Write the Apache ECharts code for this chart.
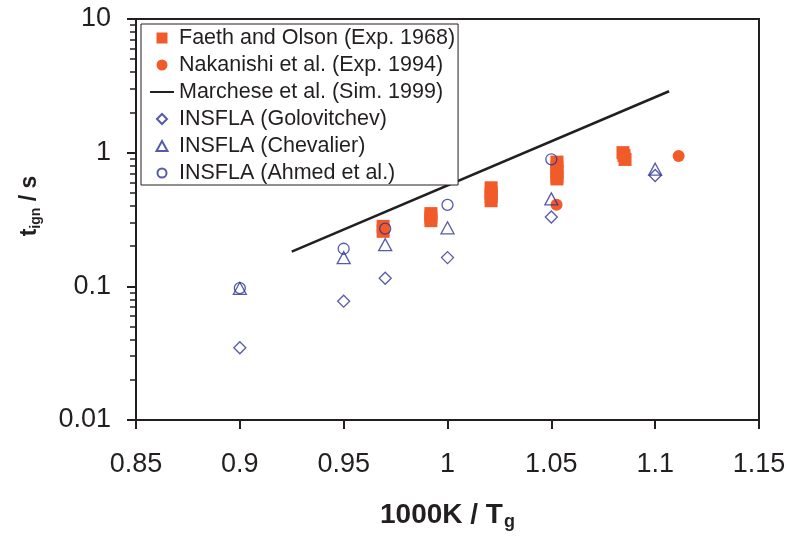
<!DOCTYPE html>
<html>
<head>
<meta charset="utf-8">
<script src="https://cdn.jsdelivr.net/npm/echarts@6/dist/echarts.min.js"></script>
<style>html,body{margin:0;padding:0;background:#fff}#c{width:789px;height:536px}</style>
</head>
<body>
<div id="c"></div>
<script>
// ---- data ----
const faethX = [0.969, 0.969, 0.992, 0.992, 0.992, 1.021, 1.021, 1.021, 1.021, 1.0527, 1.0527, 1.0527, 1.0527, 1.0527, 1.0845, 1.085, 1.0855];
const faethY = [0.281, 0.258, 0.35, 0.33, 0.31, 0.546, 0.50, 0.47, 0.437, 0.85, 0.78, 0.72, 0.66, 0.636, 1.0, 0.95, 0.89];
const nakaX = [1.0525, 1.1113];
const nakaY = [0.407, 0.946];
const marchX = [0.925, 1.1067];
const marchY = [0.182, 2.88];
const goloX = [0.9, 0.95, 0.97, 1.0, 1.05, 1.1];
const goloY = [0.0347, 0.0774, 0.115, 0.164, 0.33, 0.675];
const chevX = [0.9, 0.95, 0.97, 1.0, 1.05, 1.1];
const chevY = [0.0966, 0.164, 0.205, 0.274, 0.451, 0.752];
const ahmedX = [0.9, 0.95, 0.97, 1.0, 1.05];
const ahmedY = [0.097, 0.191, 0.27, 0.407, 0.892];
const seriesNames = ['Faeth and Olson (Exp. 1968)', 'Nakanishi et al. (Exp. 1994)', 'Marchese et al. (Sim. 1999)',
  'INSFLA (Golovitchev)', 'INSFLA (Chevalier)', 'INSFLA (Ahmed et al.)'];
const yMajorTicks = [0.01, 0.1, 1, 10];
const yMinorTicks = [];
[0.01, 0.1, 1].forEach(d => { for (let k = 2; k <= 9; k++) yMinorTicks.push(+(d * k).toPrecision(3)); });

const pairs = (xs, ys) => xs.map((x, i) => [x, ys[i]]);
const ORANGE = '#F15A29', BLUE = '#2E3192', INK = '#231F20';
const FONT = "'Liberation Sans', Arial, sans-serif";

// legend icons (bounding box padded with zero-length segments so sizes stay true)
const BOX12 = 'M0,0L0,0M12,12L12,12';
const legendIcons = [
  'path://' + BOX12 + 'M0.5,0.5L11.5,0.5L11.5,11.5L0.5,11.5Z',
  'path://' + BOX12 + 'M0.5,6A5.5,5.5,0,1,1,11.5,6A5.5,5.5,0,1,1,0.5,6Z',
  'path://M0,0L0,0M24,12L24,12M0,5L24,5L24,7L0,7Z',
  'path://' + BOX12 + 'M1,6L6,1L11,6L6,11Z',
  'path://' + BOX12 + 'M0.5,11L6,1L11.5,11Z',
  'path://' + BOX12 + 'M1.5,6A4.5,4.5,0,1,1,10.5,6A4.5,4.5,0,1,1,1.5,6Z'
];

const chart = echarts.init(document.getElementById('c'), null, {renderer: 'canvas'});
chart.setOption({
  animation: false,
  backgroundColor: '#fff',
  grid: {left: 136, right: 30, top: 19, bottom: 112, show: true, borderColor: INK, borderWidth: 2, containLabel: false},
  xAxis: {
    type: 'value', min: 0.85, max: 1.15, interval: 0.05,
    axisLine: {onZero: false, lineStyle: {color: INK, width: 2}},
    axisTick: {show: true, inside: false, length: 9, lineStyle: {color: INK, width: 2}},
    splitLine: {show: false},
    axisLabel: {color: INK, fontFamily: FONT, fontSize: 27, margin: 31},
    name: '{b|1000K / T}{sub|g}', nameLocation: 'middle', nameGap: 79,
    nameTextStyle: {rich: {
      b: {fontFamily: FONT, fontWeight: 'bold', fontSize: 28, color: INK},
      sub: {fontFamily: FONT, fontWeight: 'bold', fontSize: 18, color: INK, padding: [14, 0, 0, 1]}
    }}
  },
  yAxis: [{
    type: 'log', logBase: 10, min: 0.01, max: 10,
    axisLine: {onZero: false, lineStyle: {color: INK, width: 2}},
    axisTick: {show: true, inside: false, length: 9, lineStyle: {color: INK, width: 2}},
    splitLine: {show: false},
    axisLabel: {color: INK, fontFamily: FONT, fontSize: 27, margin: 25,
      formatter: v => String(+(+v).toPrecision(3))},
    name: '{b|t}{sub|ign}{b| / s}', nameLocation: 'middle', nameGap: 93,
    nameTextStyle: {padding: [0, 0, 0, 27], rich: {
      b: {fontFamily: FONT, fontWeight: 'bold', fontSize: 23, color: INK},
      sub: {fontFamily: FONT, fontWeight: 'bold', fontSize: 14, color: INK, padding: [12, 0, 0, 0]}
    }}
  }, {
    type: 'value', min: -2, max: 1, position: 'left', offset: 0,
    axisLine: {show: false, onZero: false},
    axisTick: {show: true, inside: false, length: 6, customValues: yMinorTicks.map(v => Math.log10(v)),
      lineStyle: {color: INK, width: 1.5}},
    axisLabel: {show: false},
    splitLine: {show: false}
  }],
  legend: {
    orient: 'vertical', left: 141, top: 24,
    padding: [3, 3, 1, 9], itemGap: 5, itemWidth: 24, itemHeight: 12,
    symbolKeepAspect: true,
    backgroundColor: '#fff', borderColor: INK, borderWidth: 1, borderRadius: 0,
    textStyle: {color: INK, fontFamily: FONT, fontSize: 21.5},
    data: seriesNames.map((n, i) => ({name: n, icon: legendIcons[i]}))
  },
  series: [
    {name: seriesNames[0], type: 'scatter', symbol: 'rect', symbolSize: 13,
      itemStyle: {color: ORANGE, opacity: 1}, data: pairs(faethX, faethY), z: 2},
    {name: seriesNames[1], type: 'scatter', symbol: 'circle', symbolSize: 12,
      itemStyle: {color: ORANGE, opacity: 1}, data: pairs(nakaX, nakaY), z: 2},
    {name: seriesNames[2], type: 'line', symbol: 'none', showSymbol: false,
      lineStyle: {color: INK, width: 2.5}, itemStyle: {color: INK}, data: pairs(marchX, marchY), z: 3},
    {name: seriesNames[3], type: 'scatter', symbol: 'diamond', symbolSize: 12,
      itemStyle: {color: 'rgba(0,0,0,0)', borderColor: BLUE, borderWidth: 1.3}, data: pairs(goloX, goloY), z: 4},
    {name: seriesNames[4], type: 'scatter', symbol: 'triangle', symbolSize: [13, 12],
      itemStyle: {color: 'rgba(0,0,0,0)', borderColor: BLUE, borderWidth: 1.3}, data: pairs(chevX, chevY), z: 4},
    {name: seriesNames[5], type: 'scatter', symbol: 'circle', symbolSize: 11,
      itemStyle: {color: 'rgba(0,0,0,0)', borderColor: BLUE, borderWidth: 1.3}, data: pairs(ahmedX, ahmedY), z: 4}
  ]
});
</script>
</body>
</html>
